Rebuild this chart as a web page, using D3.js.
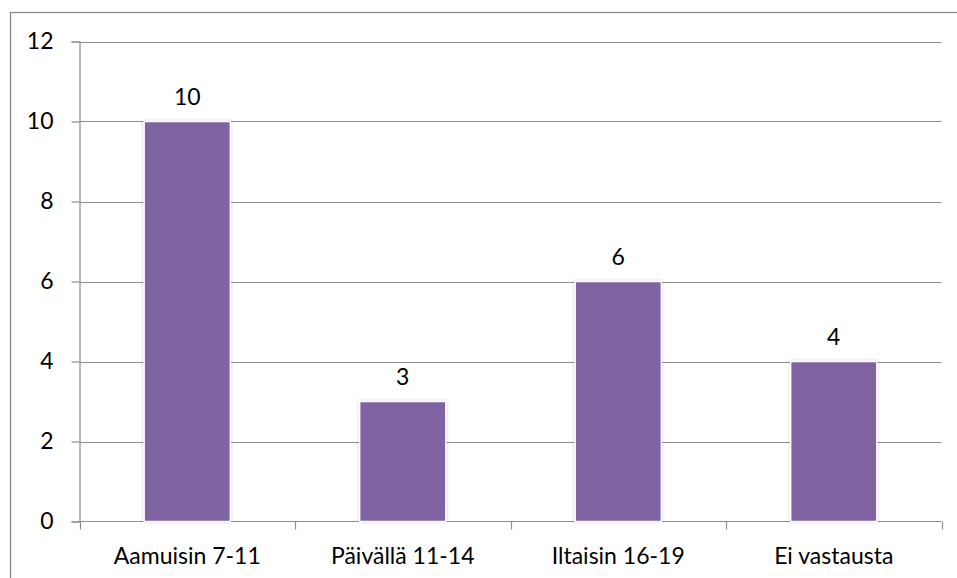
<!DOCTYPE html>
<html>
<head>
<meta charset="utf-8">
<script src="https://cdn.jsdelivr.net/npm/d3@7"></script>
<style>
  html, body { margin: 0; padding: 0; background: #fff; }
  svg { display: block; }
  text { font-family: Lato, "Open Sans", sans-serif; fill: #000; }
</style>
</head>
<body>
<svg id="chart" width="957" height="578"></svg>
<script>
// Answers by time of day
const categories = ["Aamuisin 7-11", "Päivällä 11-14", "Iltaisin 16-19", "Ei vastausta"];
const counts = [10, 3, 6, 4];
const yTicks = [0, 2, 4, 6, 8, 10, 12];

const W = 957, H = 578;
const FS = 23;
const plot = { left: 79.5, right: 941.5, top: 41.5, bottom: 521.5 };
const svg = d3.select("#chart");

// chart frame
svg.append("rect")
  .attr("x", 10.5).attr("y", 12.5)
  .attr("width", W).attr("height", H)
  .attr("fill", "none").attr("stroke", "#8a8a8a").attr("stroke-width", 1.3);

const x = d3.scaleBand().domain(categories)
  .range([plot.left, plot.right]).paddingInner(0.6).paddingOuter(0.3);
const xOuter = d3.scaleBand().domain(categories).range([plot.left, plot.right]);
const y = d3.scaleLinear().domain([0, 12]).range([plot.bottom, plot.top]);

// horizontal gridlines
svg.append("g").selectAll("line").data(yTicks.filter(d => d > 0)).join("line")
  .attr("x1", plot.left).attr("x2", plot.right)
  .attr("y1", d => Math.round(y(d)) + 0.5).attr("y2", d => Math.round(y(d)) + 0.5)
  .attr("stroke", "#8c8c8c").attr("stroke-width", 1.2);

// y axis
const yAxis = svg.append("g")
  .attr("transform", `translate(${plot.left},0)`)
  .call(d3.axisLeft(y).tickValues(yTicks).tickSize(8).tickPadding(18));
yAxis.select(".domain").attr("stroke", "#8c8c8c").attr("stroke-width", 1.2);
yAxis.selectAll(".tick line").attr("stroke", "#8c8c8c").attr("stroke-width", 1.2);
yAxis.selectAll("text").attr("font-size", FS).attr("font-family", "Lato, sans-serif").attr("fill", "#000");

// x axis with ticks at category boundaries
const xAxis = svg.append("g").attr("transform", `translate(0,${plot.bottom})`);
xAxis.append("line")
  .attr("x1", plot.left).attr("x2", plot.right)
  .attr("stroke", "#8c8c8c").attr("stroke-width", 1.2);
const bounds = categories.map(c => xOuter(c)).concat([plot.right]);
xAxis.selectAll("line.tk").data(bounds).join("line").attr("class", "tk")
  .attr("x1", d => Math.round(d) + 0.5).attr("x2", d => Math.round(d) + 0.5)
  .attr("y1", 0).attr("y2", 8)
  .attr("stroke", "#8c8c8c").attr("stroke-width", 1.2);
xAxis.selectAll("text").data(categories).join("text")
  .attr("x", d => xOuter(d) + xOuter.bandwidth() / 2)
  .attr("y", 42)
  .attr("text-anchor", "middle").attr("font-size", FS)
  .text(d => d);

// soft shadow for the bars
const defs = svg.append("defs");
const f = defs.append("filter").attr("id", "barShadow")
  .attr("x", "-10%").attr("y", "-10%").attr("width", "120%").attr("height", "120%");
f.append("feDropShadow").attr("dx", 0).attr("dy", 0).attr("stdDeviation", 1.5)
  .attr("flood-color", "#000").attr("flood-opacity", 0.25);

// bars
svg.append("g").selectAll("rect").data(categories).join("rect")
  .attr("x", d => x(d))
  .attr("y", (d, i) => y(counts[i]))
  .attr("width", x.bandwidth())
  .attr("height", (d, i) => y(0) - y(counts[i]))
  .attr("fill", "#8064a2")
  .attr("stroke", "#fff").attr("stroke-width", 1.5)
  .attr("filter", "url(#barShadow)");

// value labels
svg.append("g").selectAll("text").data(categories).join("text")
  .attr("x", d => x(d) + x.bandwidth() / 2)
  .attr("y", (d, i) => y(counts[i]) - 17)
  .attr("text-anchor", "middle").attr("font-size", FS)
  .text((d, i) => counts[i]);
</script>
</body>
</html>
